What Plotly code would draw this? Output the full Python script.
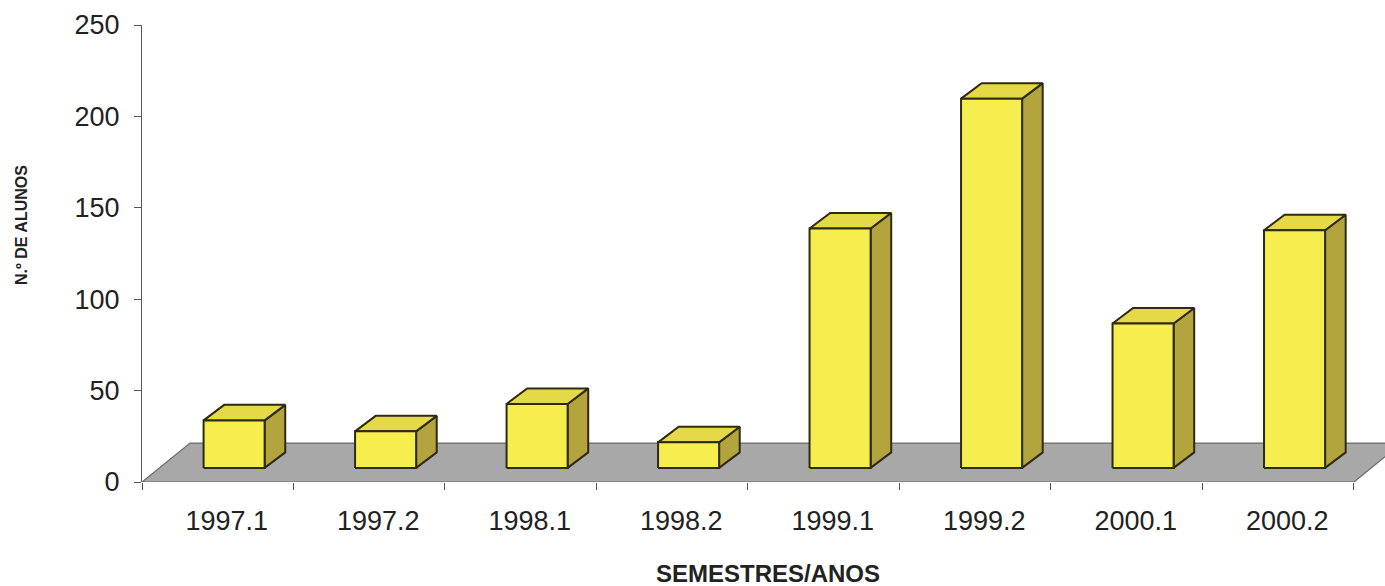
import plotly.graph_objects as go

# ---- data ----
categories = ["1997.1", "1997.2", "1998.1", "1998.2", "1999.1", "1999.2", "2000.1", "2000.2"]
alunos = [26, 20, 35, 14, 131, 202, 79, 130]
y_ticks = [0, 50, 100, 150, 200, 250]

# ---- style constants (3D look) ----
BAR_SHIFT = 0.108      # front-face centre offset from category centre
BAR_W = 0.403          # front-face width (category units)
BASE = 7.7             # bar front base raised above floor front edge
DX, DY = 0.136, 8.5    # bar depth offset
FDX, FDY = 0.317, 21.3 # floor depth offset

FRONT = "#f6ed4e"
TOP = "#e4da48"
SIDE = "#b3a43e"
EDGE = "#2e2a14"
FLOOR = "#a8a8a8"

idx = list(range(len(categories)))
n = len(categories)

fig = go.Figure()

# floor
fx = [-0.5, n - 0.5, n - 0.5 + FDX, -0.5 + FDX, -0.5]
fy = [0, 0, FDY, FDY, 0]
fig.add_trace(go.Scatter(x=fx, y=fy, fill="toself", fillcolor=FLOOR, mode="lines",
                         line=dict(color="#6a6a6a", width=1.2), hoverinfo="skip", showlegend=False))

# side, top and front faces
sx, sy, tx, ty, ox, oy = [], [], [], [], [], []
for k, v in zip(idx, alunos):
    x0 = k + BAR_SHIFT - BAR_W / 2
    x1 = k + BAR_SHIFT + BAR_W / 2
    top = BASE + v
    sx += [x1, x1 + DX, x1 + DX, x1, x1, None]
    sy += [BASE, BASE + DY, top + DY, top, BASE, None]
    tx += [x0, x0 + DX, x1 + DX, x1, x0, None]
    ty += [top, top + DY, top + DY, top, top, None]
    ox += [x0, x1, x1, x0, x0, None]
    oy += [BASE, BASE, top, top, BASE, None]

for xs, ys, col in ((sx, sy, SIDE), (tx, ty, TOP), (ox, oy, FRONT)):
    fig.add_trace(go.Scatter(x=xs, y=ys, fill="toself", fillcolor=col, mode="lines",
                             line=dict(color=EDGE, width=2), hoverinfo="skip", showlegend=False))

FONT = "Liberation Sans, Arial, sans-serif"

fig.update_layout(
    width=1385, height=586,
    margin=dict(l=142, r=0, t=25, b=104),
    paper_bgcolor="white", plot_bgcolor="white",
    font=dict(family=FONT, color="#222222", size=27),
    xaxis=dict(
        range=[-0.5, 7.705], showgrid=False, zeroline=False, showline=False, automargin=False,
        tickmode="array", tickvals=[k + 0.06 for k in idx], ticktext=categories,
        ticks="", ticklabelstandoff=20,
        tickfont=dict(size=27, family=FONT, color="#222222"),
        minor=dict(tickmode="array", tickvals=[k - 0.5 for k in range(n + 1)],
                   ticks="outside", ticklen=7, tickcolor="#555555", tickwidth=1, showgrid=False),
    ),
    yaxis=dict(
        range=[0, 250], showgrid=False, zeroline=False, automargin=False,
        showline=True, linecolor="#5e527c", linewidth=1.2,
        tickmode="array", tickvals=y_ticks, ticks="outside", ticklen=7,
        tickcolor="#555555", ticklabelstandoff=9,
        tickfont=dict(size=27, family=FONT, color="#222222"),
    ),
    annotations=[
        dict(text="<b>N.º DE ALUNOS</b>", xref="paper", yref="paper",
             x=(21 - 142) / 1243, y=(482 - 225) / 457, xanchor="center", yanchor="middle",
             textangle=-90, showarrow=False,
             font=dict(family=FONT, size=16, color="#222222")),
        dict(text="<b>SEMESTRES/ANOS</b>", xref="paper", yref="paper",
             x=(768 - 142) / 1243, y=(482 - 573) / 457, xanchor="center", yanchor="middle",
             showarrow=False, font=dict(family=FONT, size=24, color="#222222")),
    ],
)

fig.write_html("out.html", config={"displayModeBar": False},
               post_script="document.body.style.margin='0';document.body.style.overflow='hidden';")
